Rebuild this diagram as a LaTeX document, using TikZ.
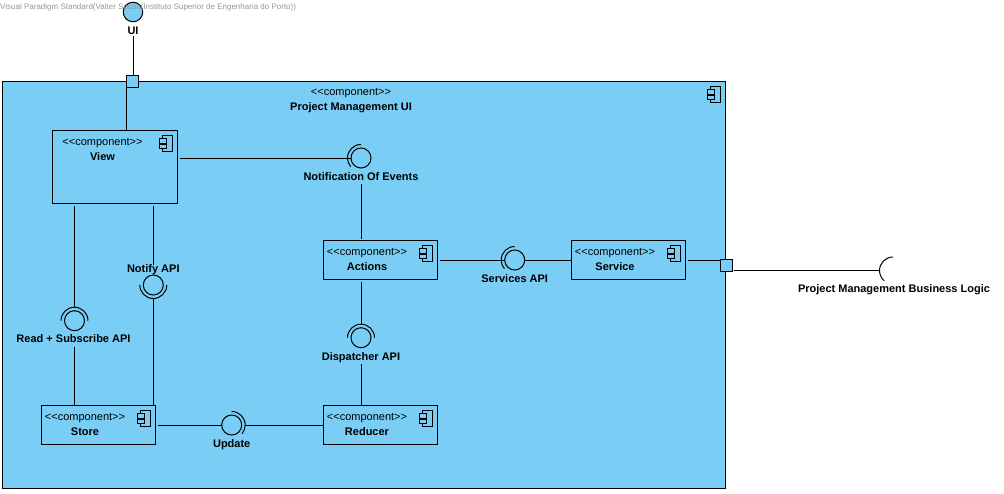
\documentclass[tikz,border=0pt]{standalone}
\usepackage{fontspec}
\setmainfont{Liberation Sans}
\usetikzlibrary{positioning}
\definecolor{compfill}{RGB}{122,206,245}
\definecolor{markgrey}{RGB}{150,150,150}
\newcommand{\stereo}[1]{{\fontsize{11}{15}\selectfont <{}<component>{}>}\\[3pt]{\fontsize{11}{15}\selectfont\bfseries #1}}
\newcommand{\socket}[3]{\draw[wire] (#1) ++(#2:13.5pt) arc[start angle=#2, end angle=#3, radius=13.5pt];}

\begin{document}
\begin{tikzpicture}[
    x=1pt, y=-1pt,
    wire/.style={draw=black, line width=1pt},
    box/.style={rectangle, draw=black, line width=1pt, fill=compfill, inner sep=0pt, outer sep=0pt},
    compbox/.style={box, minimum width=114pt, minimum height=39pt},
    port/.style={box, minimum size=12pt},
    ball/.style={circle, draw=black, line width=1pt, fill=compfill, minimum size=20pt, inner sep=0pt, outer sep=0pt},
    sockend/.style={circle, minimum size=27pt, inner sep=0pt, outer sep=0pt},
    tag/.style={font=\fontsize{11}{15}\selectfont\bfseries, inner sep=0pt, outer sep=0pt, text height=8pt, text depth=0pt},
    comptext/.style={align=center, inner sep=0pt, outer sep=0pt, anchor=north},
    compicon/.pic={
        \draw[wire] (-15.2,4.8) rectangle (-5,21);
        \draw[wire, fill=compfill] (-18.2,8.2) rectangle (-11,12.8);
        \draw[wire, fill=compfill] (-18.2,13.8) rectangle (-11,18.4);
    }
]
\useasboundingbox (0,0) rectangle (1004,493);

% outer component
\node[box, minimum width=723pt, minimum height=406.5pt] (main) at (364,284.75) {};
\node[comptext] (maintext) at (351,88.5) {\stereo{Project Management UI}};
\pic at (main.north east) {compicon};

\node[port] (uiport) at (132.4,81.5) {};
\node[port] (bizport) at (726.5,265.5) {};

% inner components
\node[box, minimum width=125pt, minimum height=73pt] (view) at (115,167) {};
\node[compbox] (actions) at (380.5,260) {};
\node[compbox, below=126pt of actions] (reducer) {};
\node[compbox, right=134pt of actions] (service) {};
\node[compbox, left=168pt of reducer] (store) {};

\node[comptext] (viewtext) at ([xshift=-12.5pt,yshift=-8pt]view.north) {\stereo{View}};
\node[comptext] (actionstext) at ([xshift=-13.5pt,yshift=-8pt]actions.north) {\stereo{Actions}};
\node[comptext] (reducertext) at ([xshift=-13.5pt,yshift=-8pt]reducer.north) {\stereo{Reducer}};
\node[comptext] (servicetext) at ([xshift=-13.5pt,yshift=-8pt]service.north) {\stereo{Service}};
\node[comptext] (storetext) at ([xshift=-13.5pt,yshift=-8pt]store.north) {\stereo{Store}};

\pic at (view.north east) {compicon};
\pic at (actions.north east) {compicon};
\pic at (reducer.north east) {compicon};
\pic at (service.north east) {compicon};
\pic at (store.north east) {compicon};

% interfaces
\node[ball, minimum size=19.5pt] (uiball) at (133,12) {};
\node[ball] (events) at (361,158) {};
\node[ball] (services) at (514.7,260) {};
\node[ball] (dispatcher) at (361,337.7) {};
\node[ball] (readapi) at (74.5,320.7) {};
\node[ball] (notify) at (153.3,285) {};
\node[ball] (update) at (231.7,425) {};
\node[sockend] (bizsock) at (893,270.5) {};

\socket{events}{90}{220}
\socket{services}{90}{220}
\socket{dispatcher}{180}{0}
\socket{readapi}{180}{0}
\socket{notify}{180}{360}
\socket{update}{90}{-40}
\socket{bizsock}{90}{230}

\node[tag, below=5pt of uiball] (uilabel) {UI};
\node[tag, below=4pt of events] (eventslabel) {Notification Of Events};
\node[tag, below=4pt of services] (serviceslabel) {Services API};
\node[tag, below=4.5pt of dispatcher] (dispatcherlabel) {Dispatcher API};
\node[tag, below=4pt of readapi, xshift=-1pt] (readlabel) {Read + Subscribe API};
\node[tag, above=3pt of notify] (notifylabel) {Notify API};
\node[tag, below=4pt of update] (updatelabel) {Update};
\node[tag, below=0pt of bizsock, xshift=1pt] (bizlabel) {Project Management Business Logic};

% connectors
\draw[wire] (uilabel.south -| uiball) ++(0,1) -- (uiball |- uiport.north);
\draw[wire] (uiport.south west) -- (uiport.south west |- view.north);
\draw[wire, shorten <=2pt] (view.east |- events) -- (events.west);
\draw[wire] (eventslabel.south -| events) ++(0,4) -- ([yshift=1.5pt]actions.north -| events);
\draw[wire, shorten <=2pt] (actions.east) -- (services.west);
\draw[wire] (services.east) -- (service.west);
\draw[wire, shorten <=2pt] (service.east) -- (service.east -| bizport.west);
\draw[wire, shorten <=1.5pt] (bizport.east |- bizsock) -- (bizsock.west);
\draw[wire, shorten <=2pt] (actions.south -| dispatcher) -- ([yshift=13.5pt]dispatcher.center);
\draw[wire] (dispatcherlabel.south -| dispatcher) ++(0,4) -- (reducer.north -| dispatcher);
\draw[wire, shorten <=2pt] (view.south -| readapi) -- ([yshift=13.5pt]readapi.center);
\draw[wire] (readlabel.south -| readapi) ++(0,4) -- (store.north -| readapi);
\draw[wire, shorten <=2pt] (view.south -| notify) -- ([yshift=-1pt]notifylabel.north -| notify);
\draw[wire] ([yshift=-13pt]notify.center) -- (store.north -| notify);
\draw[wire, shorten <=2pt] (store.east |- update) -- (update.west);
\draw[wire] ([xshift=13pt]update.center) -- (reducer.west |- update);

\node[anchor=west, inner sep=0pt, text=markgrey, font=\fontsize{8}{8}\selectfont] (watermark) at (0,7) {Visual Paradigm Standard(Valter Sousa(Instituto Superior de Engenharia do Porto))};
\end{tikzpicture}
\end{document}
